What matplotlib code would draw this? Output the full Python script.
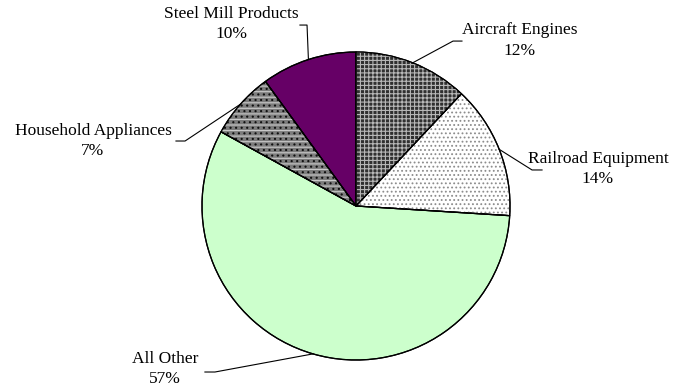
import numpy as np
import matplotlib
matplotlib.use("Agg")
import matplotlib.pyplot as plt
from matplotlib.patches import Wedge

plt.rcParams['font.family'] = ['Liberation Serif', 'DejaVu Serif']
plt.rcParams['hatch.linewidth'] = 0.8

# shares, clockwise from 12 o'clock
categories = ["Aircraft Engines", "Railroad Equipment", "All Other",
              "Household Appliances", "Steel Mill Products"]
shares = [12, 14, 57, 7, 10]

face_colors = ["#303030", "#ffffff", "#ccffcc", "#7c7c7c", "#660066"]
# (hatch, hatch colour) overlays per slice
overlays = [
    [("++++", "#b8b8b8")],
    [("....", "#8c8c8c")],
    [],
    [("---", "#c8c8c8"), ("...", "#111111")],
    [],
]

# label centre, elbow of the leader and end of the short horizontal tick
label_pos = [(1.065, 1.075), (1.571, 0.240), (-1.240, -1.058),
             (-1.708, 0.422), (-0.812, 1.182)]
elbow_pos = [(0.630, 1.071), (1.143, 0.234), (-0.916, -1.078),
             (-1.110, 0.422), (-0.318, 1.175)]
tick_end = [(0.688, 1.071), (1.208, 0.234), (-0.981, -1.078),
            (-1.169, 0.422), (-0.364, 1.175)]

fig = plt.figure(figsize=(6.91, 3.91), dpi=100)
ax = fig.add_axes([0, 0, 1, 1])

wedges, _ = ax.pie(shares, startangle=90, counterclock=False, colors=face_colors,
                   wedgeprops=dict(edgecolor="black", linewidth=0.9))

for w, extra in zip(wedges, overlays):
    for hatch, col in extra:
        ax.add_patch(Wedge(w.center, w.r, w.theta1, w.theta2, facecolor="none",
                           edgecolor=col, hatch=hatch, linewidth=0, zorder=w.get_zorder() + 0.1))
    # redraw outline on top of hatching
    ax.add_patch(Wedge(w.center, w.r, w.theta1, w.theta2, facecolor="none",
                       edgecolor="black", linewidth=0.9, zorder=w.get_zorder() + 0.2))

for w, name, val, lp, ep, te in zip(wedges, categories, shares, label_pos, elbow_pos, tick_end):
    mid = np.deg2rad((w.theta1 + w.theta2) / 2)
    x0, y0 = np.cos(mid), np.sin(mid)
    ax.plot([x0, ep[0], te[0]], [y0, ep[1], te[1]], color="black", lw=0.8)
    ax.text(lp[0], lp[1], "%s\n%d%%" % (name, val), ha="center", va="center",
            fontsize=12.5, linespacing=1.38)

ax.set_xlim(-2.3117, 2.1753)
ax.set_ylim(-1.2013, 1.3377)
ax.set_aspect("auto")
ax.axis("off")

fig.savefig("out.png", dpi=100, facecolor="white")
